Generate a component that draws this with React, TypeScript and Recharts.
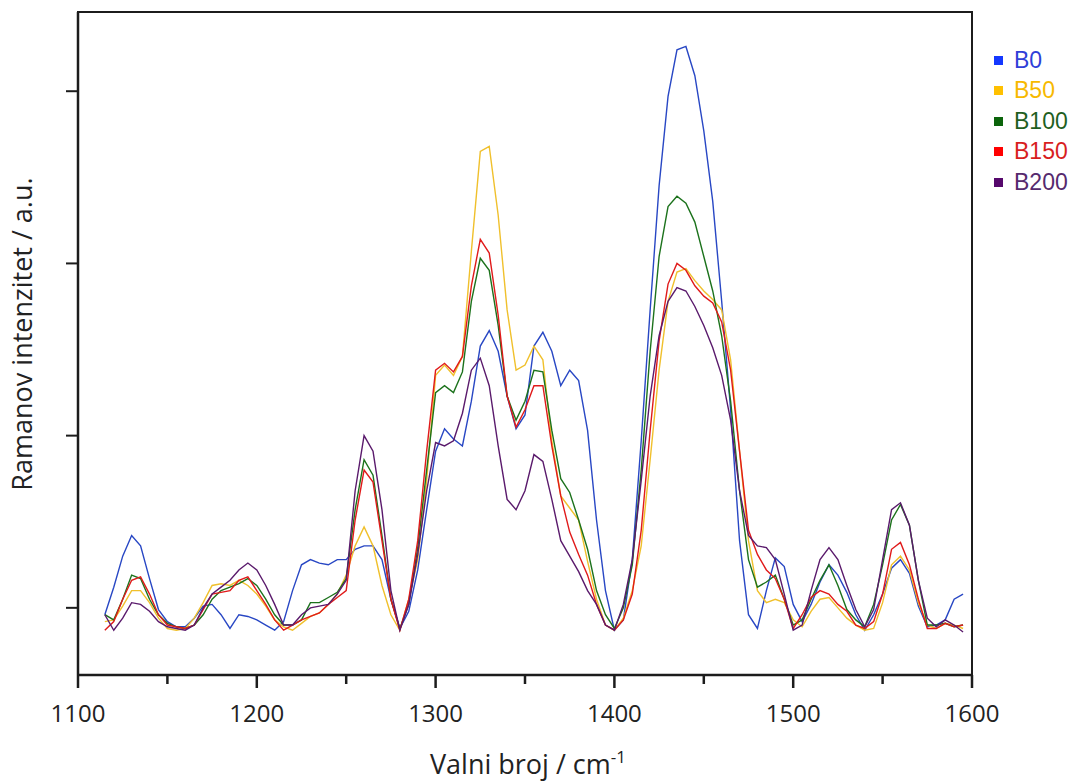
import { Legend, Line, LineChart, ReferenceArea, XAxis, YAxis } from "recharts";

// wavenumber grid, cm-1
const wavenumbers = [
  1115, 1120, 1125, 1130, 1135, 1140, 1145, 1150, 1155, 1160,
  1165, 1170, 1175, 1180, 1185, 1190, 1195, 1200, 1205, 1210,
  1215, 1220, 1225, 1230, 1235, 1240, 1245, 1250, 1255, 1260,
  1265, 1270, 1275, 1280, 1285, 1290, 1295, 1300, 1305, 1310,
  1315, 1320, 1325, 1330, 1335, 1340, 1345, 1350, 1355, 1360,
  1365, 1370, 1375, 1380, 1385, 1390, 1395, 1400, 1405, 1410,
  1415, 1420, 1425, 1430, 1435, 1440, 1445, 1450, 1455, 1460,
  1465, 1470, 1475, 1480, 1485, 1490, 1495, 1500, 1505, 1510,
  1515, 1520, 1525, 1530, 1535, 1540, 1545, 1550, 1555, 1560,
  1565, 1570, 1575, 1580, 1585, 1590, 1595,
];

const b0 = [
  -4, 12, 30, 42, 36, 17, -1, -8, -11, -11,
  -6, 1, 2, -4, -12, -4, -5, -7, -10, -13,
  -8, 10, 25, 28, 26, 25, 28, 28, 34, 36,
  36, 28, 5, -12, -2, 22, 57, 91, 104, 98,
  94, 120, 152, 161, 149, 123, 104, 112, 152, 160,
  149, 129, 138, 132, 103, 51, 10, -13, -7, 28,
  97, 173, 245, 297, 324, 326, 309, 277, 236, 178,
  115, 39, -4, -12, 10, 29, 24, 2, -8, 2,
  15, 25, 19, 9, -4, -13, -4, 8, 23, 28,
  20, 1, -11, -10, -7, 5, 8,
];

const b50 = [
  -8, -7, 1, 10, 10, 3, -6, -12, -13, -12,
  -6, 3, 13, 14, 13, 16, 13, 8, 1, -7,
  -11, -13, -9, -5, -3, 2, 8, 19, 36, 47,
  36, 13, -4, -13, 5, 28, 74, 135, 141, 135,
  146, 207, 265, 268, 228, 173, 138, 141, 152, 144,
  97, 65, 58, 51, 27, 5, -10, -13, -6, 10,
  36, 86, 138, 178, 195, 197, 190, 184, 179, 173,
  144, 91, 39, 10, 3, 5, 3, -7, -11, -2,
  5, 6, 0, -6, -10, -13, -12, 3, 25, 30,
  22, 3, -10, -12, -9, -10, -12,
];

const b100 = [
  -4, -7, 5, 19, 17, 5, -4, -9, -11, -12,
  -10, -4, 5, 10, 12, 14, 17, 13, 5, -4,
  -10, -10, -7, 3, 3, 6, 9, 17, 57, 86,
  77, 42, 5, -12, 2, 35, 80, 125, 129, 125,
  137, 178, 203, 196, 164, 123, 109, 120, 138, 137,
  103, 75, 67, 51, 34, 10, -4, -12, 0, 25,
  80, 149, 204, 233, 239, 235, 224, 204, 184, 158,
  120, 68, 28, 12, 15, 19, 5, -10, -7, 5,
  16, 25, 13, -1, -7, -11, 2, 25, 51, 60,
  48, 16, -10, -10, -9, -11, -10,
];

const b150 = [
  -13, -8, 5, 16, 18, 8, -4, -10, -11, -12,
  -10, -1, 8, 9, 10, 16, 18, 10, 2, -7,
  -13, -10, -7, -5, -3, 2, 6, 10, 51, 80,
  73, 39, 5, -13, 5, 39, 91, 138, 142, 137,
  146, 187, 214, 206, 170, 123, 105, 115, 129, 129,
  94, 65, 44, 31, 19, 2, -10, -13, -7, 8,
  45, 103, 155, 188, 200, 196, 187, 181, 177, 166,
  138, 91, 45, 31, 22, 17, 5, -12, -4, 6,
  10, 8, 2, -2, -10, -12, -8, 8, 34, 38,
  25, 5, -12, -12, -9, -11, -10,
];

const b200 = [
  -4, -13, -6, 3, 2, -2, -8, -11, -12, -13,
  -10, 0, 8, 12, 16, 22, 26, 22, 13, 2,
  -10, -10, -4, 0, 1, 2, 8, 16, 68, 100,
  91, 57, 10, -13, 2, 31, 68, 96, 94, 97,
  113, 138, 145, 129, 94, 63, 57, 68, 89, 85,
  63, 39, 30, 21, 10, 2, -10, -13, 2, 28,
  74, 123, 158, 178, 186, 184, 175, 164, 151, 135,
  109, 68, 42, 36, 35, 28, 8, -13, -10, 10,
  28, 35, 28, 13, -1, -11, -1, 28, 57, 61,
  48, 16, -6, -11, -7, -10, -14,
];

const seriesNames = ["B0", "B50", "B100", "B150", "B200"];
const lineColors = ["#2847c4", "#f0c02c", "#1c721c", "#e01a1a", "#5a1a6c"];
const legendSquares = ["#1438ff", "#ffc000", "#0b640b", "#ff0000", "#56086c"];
const legendText = ["#2f3fd8", "#f7b900", "#1f5f1f", "#d81e1e", "#562a6e"];

const xTicks = [1100, 1150, 1200, 1250, 1300, 1350, 1400, 1450, 1500, 1550, 1600];
const yTicks = [0, 100, 200, 300];

const data = wavenumbers.map((w, i) => ({
  w,
  B0: b0[i],
  B50: b50[i],
  B100: b100[i],
  B150: b150[i],
  B200: b200[i],
}));

const frame = "#1c1c1c";
const font = "'Open Sans', 'Noto Sans', sans-serif";

function WaveTick({ x, y, payload }: any) {
  const major = payload.value % 100 === 0;
  return (
    <g>
      <line x1={x} x2={x} y1={y} y2={y + (major ? 13 : 9)} stroke={frame} strokeWidth={2.5} />
      {major && (
        <text x={x} y={y + 47} textAnchor="middle" fontSize={24} fill="#222" fontFamily={font}>
          {payload.value}
        </text>
      )}
    </g>
  );
}

function LegendBox() {
  return (
    <div style={{ fontFamily: "'Liberation Sans', Arial, sans-serif", fontSize: 23 }}>
      {seriesNames.map((name, i) => (
        <div key={name} style={{ display: "flex", alignItems: "center", height: 30.5 }}>
          <span style={{ width: 9, height: 9, background: legendSquares[i], marginRight: 11 }} />
          <span style={{ color: legendText[i] }}>{name}</span>
        </div>
      ))}
    </div>
  );
}

export default function App() {
  return (
    <div style={{ position: "absolute", left: 0, top: 0, background: "#fff" }}>
      <LineChart width={1080} height={784} data={data} margin={{ top: 12, right: 108, bottom: 0, left: 0 }}>
        <XAxis
          dataKey="w"
          type="number"
          domain={[1100, 1600]}
          ticks={xTicks}
          interval={0}
          height={109}
          tickSize={0}
          tickMargin={0}
          tickLine={false}
          tick={<WaveTick />}
          axisLine={{ stroke: frame, strokeWidth: 2.5 }}
          label={{
            content: () => (
              <text x={528} y={774} textAnchor="middle" fontSize={27} fill="#222" fontFamily={font}>
                <tspan>Valni broj / cm</tspan>
                <tspan dy={-11} fontSize={17}>-1</tspan>
              </text>
            ),
          }}
        />
        <YAxis
          type="number"
          domain={[-39, 346]}
          ticks={yTicks}
          width={78}
          tickSize={12}
          tickLine={{ stroke: frame, strokeWidth: 2 }}
          tickFormatter={() => ""}
          axisLine={{ stroke: frame, strokeWidth: 2.5 }}
          label={{
            content: () => (
              <text
                x={32}
                y={334}
                transform="rotate(-90, 32, 334)"
                textAnchor="middle"
                fontSize={27}
                fill="#222"
                fontFamily={font}
              >
                Ramanov intenzitet / a.u.
              </text>
            ),
          }}
        />
        <ReferenceArea
          x1={1100}
          x2={1600}
          y1={-39}
          y2={346}
          fill="none"
          stroke={frame}
          strokeWidth={2}
        />
        <Legend
          layout="vertical"
          align="center"
          verticalAlign="middle"
          content={<LegendBox />}
          wrapperStyle={{ left: 994, top: 45, width: 86, height: 160 }}
        />
        {seriesNames.map((name, i) => (
          <Line
            key={name}
            dataKey={name}
            type="linear"
            stroke={lineColors[i]}
            strokeWidth={1.4}
            dot={false}
            isAnimationActive={false}
          />
        ))}
      </LineChart>
    </div>
  );
}
